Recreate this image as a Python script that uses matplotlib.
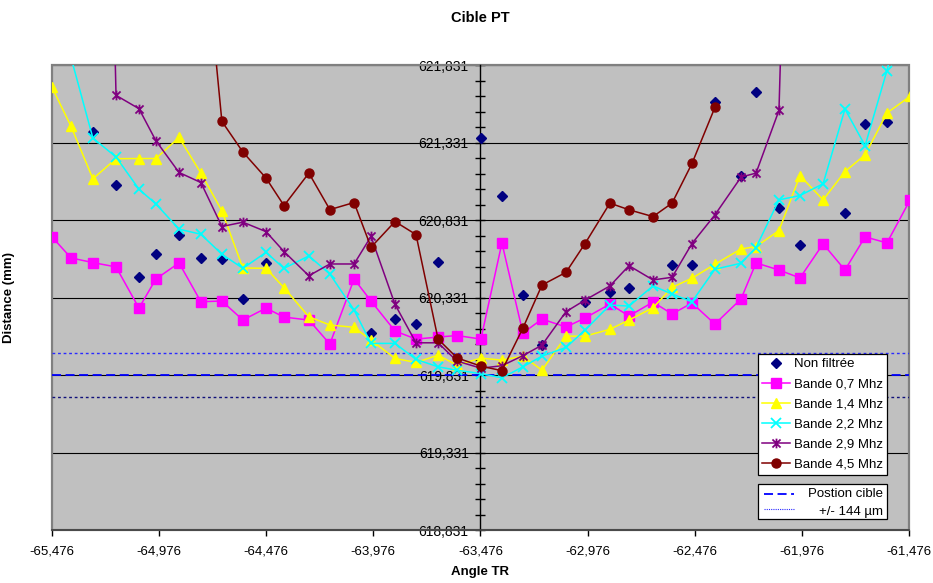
import numpy as np
import matplotlib
matplotlib.use("Agg")
import matplotlib.pyplot as plt
from matplotlib.path import Path
from matplotlib.patches import Rectangle
from matplotlib.lines import Line2D

nan = np.nan

# Angle TR (x) shared by all series
angle = [-65.476, -65.387, -65.285, -65.177, -65.070, -64.991, -64.883, -64.781,
         -64.683, -64.585, -64.477, -64.393, -64.277, -64.179, -64.066, -63.987,
         -63.875, -63.777, -63.674, -63.586, -63.474, -63.376, -63.278, -63.189,
         -63.077, -62.988, -62.872, -62.783, -62.671, -62.582, -62.489, -62.382,
         -62.260, -62.190, -62.083, -61.985, -61.877, -61.775, -61.681, -61.579,
         -61.471]

non_filtree = [nan, nan, 621.399, 621.056, 620.463, 620.614, 620.739, 620.586,
               620.582, 620.325, 620.558, nan, nan, nan, nan, 620.105,
               620.193, 620.161, 620.562, nan, 621.360, 620.985, 620.349, 620.025,
               nan, 620.301, 620.366, 620.392, nan, 620.543, 620.543, 621.593,
               621.114, 621.662, 620.913, 620.672, nan, 620.877, 621.453, 621.468,
               nan]

bande_07 = [620.724, 620.588, 620.558, 620.530, 620.264, 620.452, 620.556, 620.305,
            620.310, 620.187, 620.264, 620.206, 620.187, 620.032, 620.452, 620.310,
            620.116, 620.064, 620.077, 620.087, 620.064, 620.685, 620.103, 620.193,
            620.142, 620.200, 620.290, 620.213, 620.303, 620.226, 620.297, 620.161,
            620.323, 620.556, 620.510, 620.459, 620.679, 620.510, 620.724, 620.685,
            620.963]

bande_14 = [621.690, 621.438, 621.099, 621.229, 621.230, 621.230, 621.366, 621.136,
            620.892, 620.523, 620.521, 620.396, 620.208, 620.155, 620.140, 620.057,
            619.939, 619.913, 619.960, 619.896, 619.941, 619.928, 619.954, 619.863,
            620.083, 620.083, 620.127, 620.187, 620.266, 620.398, 620.457, 620.547,
            620.646, 620.661, 620.765, 621.120, 620.963, 621.146, 621.254, 621.524,
            621.632]

bande_22 = [622.516, 621.882, 621.362, 621.240, 621.032, 620.937, 620.774, 620.741,
            620.612, 620.521, 620.624, 620.521, 620.601, 620.484, 620.252, 620.036,
            620.036, 619.933, 619.885, 619.863, 619.841, 619.814, 619.885, 619.954,
            620.010, 620.122, 620.284, 620.277, 620.407, 620.355, 620.305, 620.515,
            620.554, 620.655, 620.963, 620.991, 621.067, 621.550, 621.313, 621.798,
            622.400]

bande_29 = [nan, nan, 628.0, 621.638, 621.552, 621.345, 621.140, 621.075,
            620.791, 620.819, 620.758, 620.629, 620.473, 620.549, 620.549, 620.727,
            620.288, 620.040, 620.040, 619.922, 619.876, 619.892, 619.957, 620.025,
            620.241, 620.316, 620.407, 620.538, 620.446, 620.463, 620.681, 620.866,
            621.110, 621.136, 621.541, 626.2, nan, nan, nan, nan,
            nan]

bande_45 = [nan, nan, nan, nan, nan, nan, nan, 622.88,
            621.470, 621.272, 621.104, 620.926, 621.136, 620.900, 620.946, 620.657,
            620.823, 620.739, 620.064, 619.943, 619.889, 619.860, 620.135, 620.413,
            620.495, 620.681, 620.942, 620.899, 620.855, 620.942, 621.198, 621.560,
            nan, nan, nan, nan, nan, nan, nan, nan,
            nan]

position_cible = 619.831
tolerance = 0.144

xticks = [-65.476, -64.976, -64.476, -63.976, -63.476, -62.976, -62.476, -61.976, -61.476]
xtick_labels = ["-65,476", "-64,976", "-64,476", "-63,976", "-63,476",
                "-62,976", "-62,476", "-61,976", "-61,476"]
yticks = [618.831, 619.331, 619.831, 620.331, 620.831, 621.331, 621.831]
ytick_labels = ["618,831", "619,331", "619,831", "620,331", "620,831", "621,331", "621,831"]

plt.rcParams["font.family"] = ["Liberation Sans", "DejaVu Sans"]

fig = plt.figure(figsize=(9.33, 5.83), dpi=100)
ax = fig.add_axes([0.0557, 0.0909, 0.9186, 0.7968])
ax.set_facecolor("#C0C0C0")

# excel-style star: x plus vertical bar
star = Path([(-1, -1), (1, 1), (-1, 1), (1, -1), (0, -1.2), (0, 1.2)],
            [Path.MOVETO, Path.LINETO, Path.MOVETO, Path.LINETO, Path.MOVETO, Path.LINETO])

ax.axhline(position_cible, color="#0000FF", lw=1.3, ls=(0, (5, 2.5)), zorder=2.5)
ax.axhline(position_cible + tolerance, color="#2a2aff", lw=1.0, ls=(0, (2, 2)), zorder=2.5)
ax.axhline(position_cible - tolerance, color="#10107a", lw=1.0, ls=(0, (2, 2)), zorder=2.5)

lw = 1.1
h0, = ax.plot(angle, non_filtree, ls="none", marker="D", ms=5, color="#000080",
              label="Non filtrée", zorder=3)
h1, = ax.plot(angle, bande_07, color="#FF00FF", lw=lw, marker="s", ms=6.5,
              label="Bande 0,7 Mhz", zorder=4)
h2, = ax.plot(angle, bande_14, color="#FFFF00", lw=lw, marker="^", ms=7.5,
              label="Bande 1,4 Mhz", zorder=4)
h3, = ax.plot(angle, bande_22, color="#00FFFF", lw=lw, marker="x", ms=7, mew=1.3,
              label="Bande 2,2 Mhz", zorder=4)
h4, = ax.plot(angle, bande_29, color="#800080", lw=lw, marker=star, ms=7, mew=1.3,
              mfc="none", label="Bande 2,9 Mhz", zorder=4)
h5, = ax.plot(angle, bande_45, color="#800000", lw=lw, marker="o", ms=6.5,
              label="Bande 4,5 Mhz", zorder=4)

ax.set_xlim(-65.476, -61.476)
ax.set_ylim(618.831, 621.831)

ax.set_xticks(xticks)
ax.set_xticklabels(xtick_labels, fontsize=9.5)
ax.set_yticks(yticks)
ax.set_yticklabels(ytick_labels, fontsize=9.5)
ax.set_yticks(np.arange(618.831, 621.832, 0.1), minor=True)
ax.tick_params(axis="x", direction="out", length=4, width=1, pad=7)
ax.tick_params(axis="y", which="both", direction="inout", length=7, width=1, pad=5)
ax.yaxis.grid(True, color="black", lw=0.8)
ax.set_axisbelow(True)

ax.spines["left"].set_position(("data", -63.476))
ax.spines["left"].set_linewidth(1.0)
ax.spines["top"].set_visible(False)
ax.spines["right"].set_visible(False)
ax.spines["bottom"].set_color("#404040")
ax.spines["bottom"].set_linewidth(1.2)
ax.add_patch(Rectangle((0, 0), 1, 1, transform=ax.transAxes, fill=False,
                       edgecolor="#808080", lw=1.6, clip_on=False, zorder=1.5))

ax.set_xlabel("Angle TR", fontweight="bold", fontsize=9.5)
ax.xaxis.set_label_coords(0.5, -0.077)
ax.set_ylabel("Distance (mm)", fontweight="bold", fontsize=9.5)
ax.yaxis.set_label_coords(-0.043, 0.5)
fig.text(480.5 / 933, 1 - 18 / 583, "Cible PT", ha="center", va="center",
         fontweight="bold", fontsize=10.5)

leg = ax.legend(handles=[h0, h1, h2, h3, h4, h5], loc="upper left",
                bbox_to_anchor=(0.824, 0.379), fontsize=9.5, frameon=True,
                fancybox=False, edgecolor="black", framealpha=1,
                borderpad=0.3, labelspacing=0.6, handlelength=2.1,
                handletextpad=0.3, borderaxespad=0)
leg.get_frame().set_linewidth(0.9)
leg.set_zorder(6)

# second key box: target position and tolerance
box = Rectangle((0.824, 0.0237), 0.150, 0.0753, transform=ax.transAxes,
                facecolor="white", edgecolor="black", lw=0.9, zorder=6, clip_on=False)
ax.add_patch(box)
ax.add_line(Line2D([0.831, 0.866], [0.0775, 0.0775], transform=ax.transAxes,
                   color="#0000FF", lw=1.3, ls=(0, (5, 2.5)), zorder=7))
ax.add_line(Line2D([0.831, 0.866], [0.045, 0.045], transform=ax.transAxes,
                   color="#2a2aff", lw=0.8, ls=(0, (1, 1)), zorder=7))
ax.text(0.970, 0.0775, "Postion cible", transform=ax.transAxes, ha="right",
        va="center", fontsize=9.5, zorder=7)
ax.text(0.970, 0.0395, "+/- 144 µm", transform=ax.transAxes, ha="right",
        va="center", fontsize=9.5, zorder=7)

fig.savefig("out.png", dpi=100)
